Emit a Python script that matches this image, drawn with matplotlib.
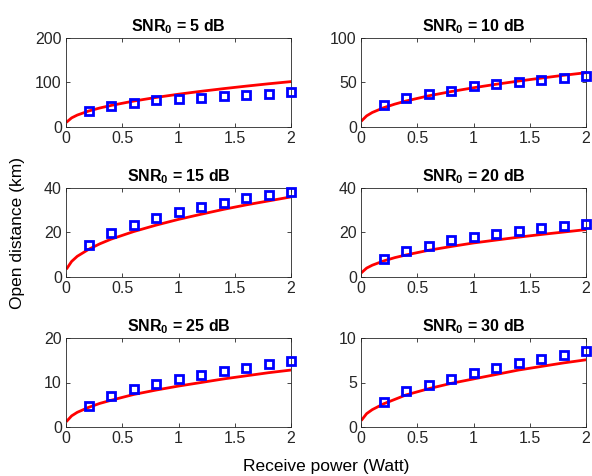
import matplotlib
matplotlib.use('Agg')
import matplotlib.pyplot as plt

plt.rcParams['font.family'] = ['Liberation Sans', 'DejaVu Sans']
plt.rcParams['mathtext.fontset'] = 'custom'
plt.rcParams['mathtext.bf'] = 'Liberation Sans:bold'
plt.rcParams['mathtext.rm'] = 'Liberation Sans'

snr_db = [5, 10, 15, 20, 25, 30]
y_max = [200, 100, 40, 40, 20, 10]
y_ticks = [[0, 100, 200], [0, 50, 100], [0, 20, 40], [0, 20, 40], [0, 10, 20], [0, 5, 10]]

# simulated points (blue squares)
p_sim = [0.2, 0.4, 0.6, 0.8, 1.0, 1.2, 1.4, 1.6, 1.8, 2.0]
d_sim_5 = [36, 47.5, 55, 61, 64, 66, 70, 72, 75, 78]
d_sim_10 = [24.5, 32.5, 37, 41, 46, 48, 51, 53, 55.5, 57]
d_sim_15 = [14.6, 19.8, 23.4, 26.6, 29.3, 31.4, 33.4, 35.3, 37, 38.2]
d_sim_20 = [8, 11.5, 14, 16.6, 18.1, 19.2, 20.8, 21.9, 23.1, 23.8]
d_sim_25 = [4.7, 7, 8.5, 9.7, 10.8, 11.6, 12.5, 13.2, 14.2, 14.8]
d_sim_30 = [2.8, 4.0, 4.7, 5.4, 6.1, 6.6, 7.2, 7.6, 8.1, 8.5]

# theoretical curve (red line)
p_th = [0.01, 0.05, 0.1, 0.2, 0.3, 0.4, 0.6, 0.8, 1.0, 1.2, 1.4, 1.6, 1.8, 2.0]
d_th_5 = [12, 20.5, 26.8, 35.8, 42.7, 48.4, 58.2, 66.4, 73.7, 80.2, 86.2, 91.8, 97.1, 102.0]
d_th_10 = [7.5, 12.5, 16.3, 21.6, 25.7, 29.2, 35.0, 39.8, 44.1, 48.0, 51.6, 54.9, 58.1, 61.0]
d_th_15 = [4.0, 7.0, 9.3, 12.4, 14.9, 17.0, 20.4, 23.3, 25.9, 28.2, 30.4, 32.4, 34.2, 36.0]
d_th_20 = [2.2, 4.0, 5.3, 7.2, 8.7, 9.9, 12.0, 13.7, 15.3, 16.6, 17.9, 19.1, 20.2, 21.3]
d_th_25 = [1.4, 2.5, 3.3, 4.4, 5.3, 6.0, 7.3, 8.3, 9.2, 10.0, 10.8, 11.5, 12.2, 12.8]
d_th_30 = [0.85, 1.5, 1.95, 2.6, 3.1, 3.6, 4.3, 4.9, 5.4, 5.9, 6.4, 6.8, 7.2, 7.55]

sims = [d_sim_5, d_sim_10, d_sim_15, d_sim_20, d_sim_25, d_sim_30]
ths = [d_th_5, d_th_10, d_th_15, d_th_20, d_th_25, d_th_30]

fig = plt.figure(figsize=(5.92, 4.76), dpi=100)
W, H = 592, 476
lefts = [66, 361]
tops = [38, 188, 338]
aw, ah = 225, 89

for i in range(6):
    r, c = divmod(i, 2)
    ax = fig.add_axes([lefts[c] / W, 1 - (tops[r] + ah) / H, aw / W, ah / H])
    ax.plot(p_th, ths[i], color='red', lw=2, zorder=2)
    ax.plot(p_sim, sims[i], 's', mfc='none', mec='blue', ms=6, mew=2, zorder=3, clip_on=False)
    ax.set_xlim(0, 2)
    ax.set_ylim(0, y_max[i])
    ax.set_xticks([0, 0.5, 1, 1.5, 2])
    ax.set_xticklabels(['0', '0.5', '1', '1.5', '2'])
    ax.set_yticks(y_ticks[i])
    ax.tick_params(direction='in', top=True, right=True, labelsize=11.5, length=3,
                   width=0.6, colors='#262626', pad=3)
    for s in ax.spines.values():
        s.set_linewidth(0.6)
        s.set_color('#262626')
    ax.set_title(r'SNR$_\mathbf{0}$ = %d dB' % snr_db[i], fontsize=11.5, fontweight='bold', pad=5)

fig.text(18 / W, 1 - 233 / H, 'Open distance (km)', rotation=90, ha='center', va='center', fontsize=12.5)
fig.text(326 / W, 1 - 466 / H, 'Receive power (Watt)', ha='center', va='center', fontsize=12.5)

fig.savefig('out.png', dpi=100)
